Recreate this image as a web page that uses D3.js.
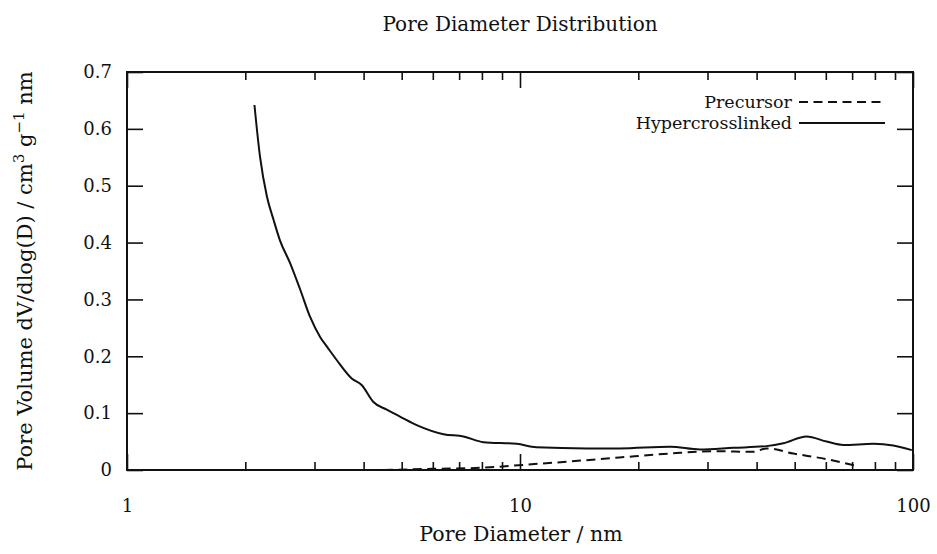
<!DOCTYPE html>
<html>
<head>
<meta charset="utf-8">
<script src="https://cdn.jsdelivr.net/npm/d3@7"></script>
<style>
	html, body { margin: 0; padding: 0; background: #fff; }
</style>
</head>
<body>
<svg id="chart" width="937" height="554" font-family="DejaVu Serif"></svg>
<script>
	// Pore diameter (nm) and dV/dlog(D)
	var hyperX = [2.11, 2.18, 2.27, 2.36, 2.45, 2.60, 2.76, 2.92, 3.10, 3.25, 3.42, 3.73, 3.96, 4.23, 4.58, 4.95, 5.46, 6.39, 7.18, 8.07, 9.81, 11.0, 14.8, 17.9, 24.1, 28.7, 34.9, 42.4, 46.8, 53.6, 60.3, 66.5, 79.3, 89.1, 99.3];
	var hyperY = [0.642, 0.551, 0.481, 0.440, 0.404, 0.364, 0.317, 0.270, 0.234, 0.214, 0.193, 0.161, 0.149, 0.120, 0.106, 0.094, 0.079, 0.063, 0.059, 0.049, 0.046, 0.040, 0.038, 0.038, 0.041, 0.036, 0.039, 0.042, 0.047, 0.059, 0.050, 0.044, 0.046, 0.043, 0.035];

	var precX = [4.5, 6.0, 8.0, 10.2, 13.4, 17.9, 24.1, 31.0, 39.3, 42.4, 49.6, 60.3, 71.0];
	var precY = [0.000, 0.002, 0.004, 0.009, 0.015, 0.022, 0.029, 0.033, 0.032, 0.038, 0.029, 0.019, 0.008];

	var xMajor = [1, 10, 100];
	var xMinor = [2, 3, 4, 5, 6, 7, 8, 9, 20, 30, 40, 50, 60, 70, 80, 90];
	var yTicks = [0, 0.1, 0.2, 0.3, 0.4, 0.5, 0.6, 0.7];

	var seriesNames = ["Precursor", "Hypercrosslinked"];

	var FONT = "DejaVu Serif";

	var svg = d3.select("#chart"),
		margin = {top: 72, right: 24, bottom: 84, left: 127},
		width = +svg.attr("width") - margin.left - margin.right,
		height = +svg.attr("height") - margin.top - margin.bottom,
		g = svg.append("g").attr("transform", "translate(" + margin.left + "," + margin.top + ")");

	var x = d3.scaleLog().domain([1, 100]).range([0, width]);
	var y = d3.scaleLinear().domain([0, 0.7]).range([height, 0]);

	var tickFont = 18;

	function styleAxis(sel) {
		sel.attr("font-family", FONT).attr("font-size", tickFont);
		sel.select(".domain").remove();
		sel.selectAll("line").attr("stroke", "#111").attr("stroke-width", 1.6);
		sel.selectAll("text").attr("fill", "#111");
	}

	// bottom axis
	g.append("g").attr("transform", "translate(0," + height + ")")
		.call(d3.axisBottom(x).tickValues(xMajor).tickSize(-16).tickPadding(29).tickFormat(d3.format("d")))
		.call(styleAxis);
	g.append("g").attr("transform", "translate(0," + height + ")")
		.call(d3.axisBottom(x).tickValues(xMinor).tickSize(-8).tickFormat(""))
		.call(styleAxis);

	// top axis
	g.append("g")
		.call(d3.axisTop(x).tickValues(xMajor).tickSize(-16).tickFormat(""))
		.call(styleAxis);
	g.append("g")
		.call(d3.axisTop(x).tickValues(xMinor).tickSize(-8).tickFormat(""))
		.call(styleAxis);

	// left / right axes
	g.append("g")
		.call(d3.axisLeft(y).tickValues(yTicks).tickSize(-16).tickPadding(15)
			.tickFormat(function (d) { return d === 0 ? "0" : d.toFixed(1); }))
		.call(styleAxis);
	g.append("g").attr("transform", "translate(" + width + ",0)")
		.call(d3.axisRight(y).tickValues(yTicks).tickSize(-16).tickFormat(""))
		.call(styleAxis);

	// frame
	g.append("rect")
		.attr("width", width).attr("height", height)
		.attr("fill", "none").attr("stroke", "#111").attr("stroke-width", 2);

	var line = d3.line()
		.x(function (d) { return x(d[0]); })
		.y(function (d) { return y(d[1]); })
		.curve(d3.curveMonotoneX);

	var hyper = hyperX.map(function (v, i) { return [v, hyperY[i]]; });
	var prec = precX.map(function (v, i) { return [v, precY[i]]; });

	g.append("path").datum(prec)
		.attr("d", line).attr("fill", "none")
		.attr("stroke", "#111").attr("stroke-width", 2)
		.attr("stroke-dasharray", "9,5.5");

	g.append("path").datum(hyper)
		.attr("d", line).attr("fill", "none")
		.attr("stroke", "#111").attr("stroke-width", 2);

	// legend
	var legend = g.selectAll(".legend")
		.data(seriesNames)
		.enter().append("g")
		.attr("transform", function (d, i) { return "translate(0," + (30 + i * 21) + ")"; });

	legend.append("text")
		.attr("x", 665).attr("y", 6)
		.attr("text-anchor", "end")
		.attr("font-size", 17.5)
		.attr("fill", "#111")
		.text(function (d) { return d; });

	legend.append("line")
		.attr("x1", 672).attr("x2", 758)
		.attr("stroke", "#111").attr("stroke-width", 2)
		.attr("stroke-dasharray", function (d, i) { return i === 0 ? "9,5.5" : null; });

	// title and axis labels
	svg.append("text")
		.attr("x", 520).attr("y", 31)
		.attr("text-anchor", "middle").attr("font-size", 20).attr("fill", "#111")
		.text("Pore Diameter Distribution");

	svg.append("text")
		.attr("x", 521).attr("y", 541)
		.attr("text-anchor", "middle").attr("font-size", 20.5).attr("fill", "#111")
		.text("Pore Diameter / nm");

	var yl = svg.append("text")
		.attr("transform", "translate(32,271) rotate(-90)")
		.attr("text-anchor", "middle").attr("font-size", 21).attr("fill", "#111");
	yl.append("tspan").text("Pore Volume dV/dlog(D) / cm");
	yl.append("tspan").attr("dy", -8).attr("font-size", 15).text("3");
	yl.append("tspan").attr("dy", 8).text(" g");
	yl.append("tspan").attr("dy", -8).attr("font-size", 15).text("\u22121");
	yl.append("tspan").attr("dy", 8).text(" nm");
</script>
</body>
</html>
